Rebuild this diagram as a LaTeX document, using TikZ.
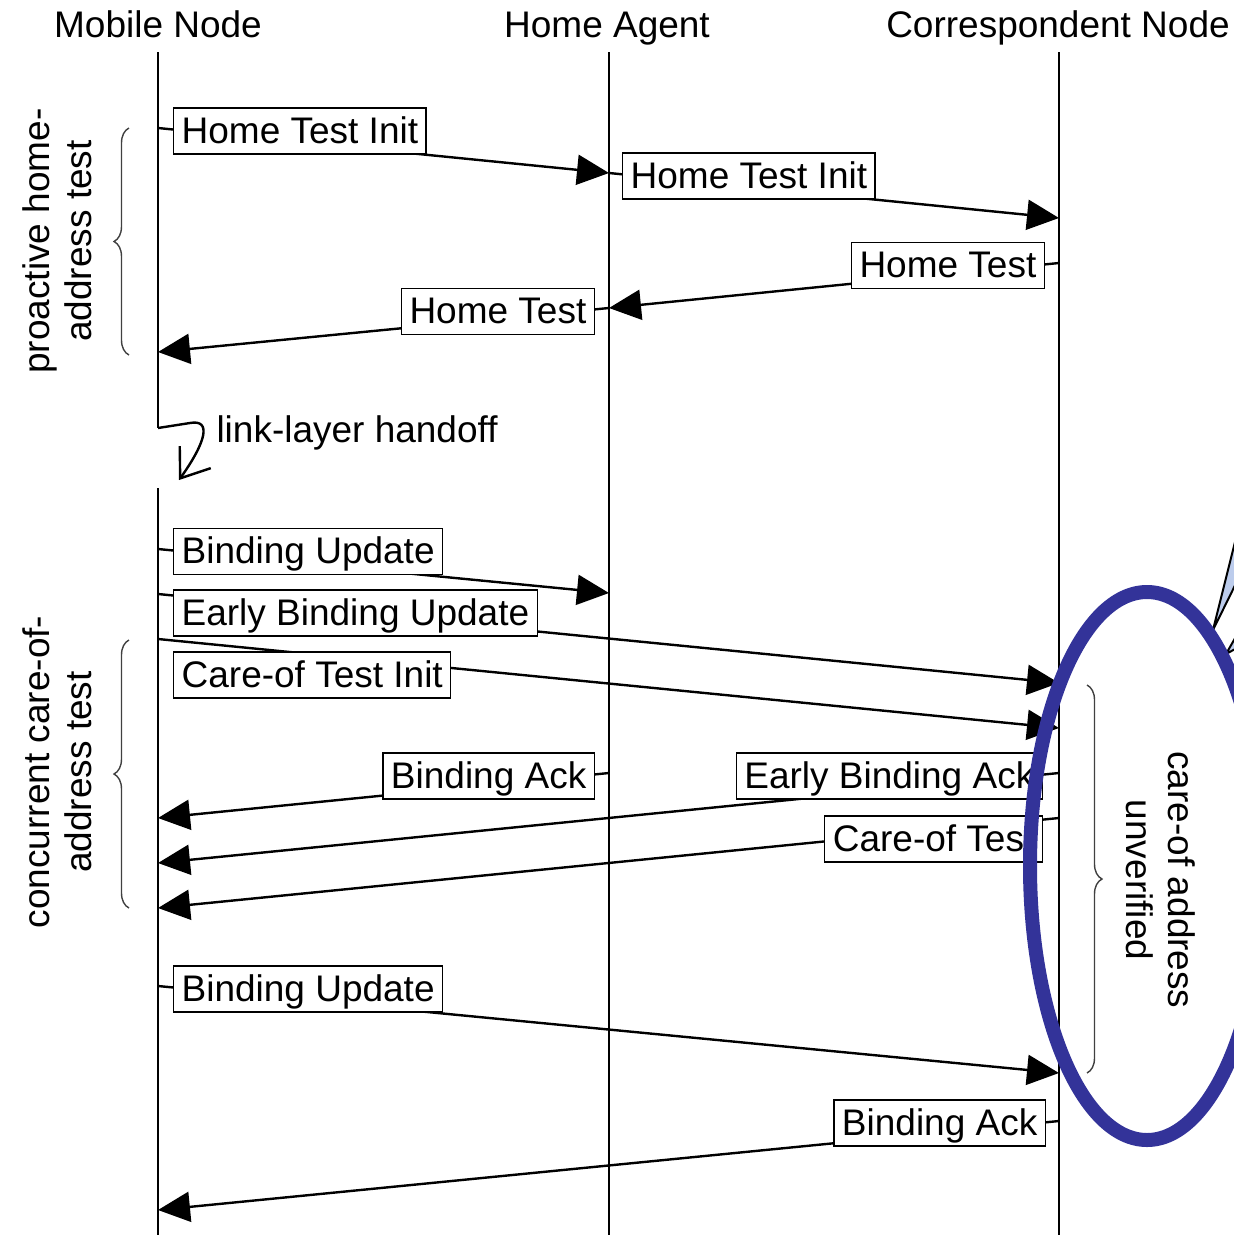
\documentclass[tikz,border=0pt]{standalone}
\usepackage{fontspec}
\setmainfont{Liberation Sans}
\usetikzlibrary{arrows.meta,decorations.pathreplacing}
\definecolor{ringblue}{RGB}{51,51,153}
\definecolor{tailblue}{RGB}{188,204,236}
\begin{document}
\begin{tikzpicture}[x=1pt,y=-1pt,
  every node/.style={font=\fontsize{37}{42}\selectfont},
  life/.style={line width=2pt},
  msg/.style={line width=2.4pt,-{Triangle[length=32pt,width=30pt]}},
  lbl/.style={draw,line width=1.3pt,fill=white,inner xsep=8pt,inner ysep=5pt,
              text height=30pt,text depth=6pt},
  sidebrace/.style={decorate,decoration={brace,amplitude=15pt},line width=1.4pt,draw=black!75},
  sidenote/.style={align=center}
]
\useasboundingbox (0,0) rectangle (1234,1235);
\clip (0,0) rectangle (1234,1235);

% participants
\node[anchor=base] (mnh) at (158,37) {Mobile Node};
\node[anchor=base] (hah) at (607,37) {Home Agent};
\node[anchor=base] (cnh) at (1058,37) {Correspondent Node};

% lifeline ends
\coordinate (mnTop) at (158,52);
\coordinate (mnCut) at (158,428);
\coordinate (mnRes) at (158,488);
\coordinate (mnBot) at (158,1235);
\coordinate (haTop) at (609,52);
\coordinate (haBot) at (609,1235);
\coordinate (cnTop) at (1059,52);
\coordinate (cnBot) at (1059,1235);

\draw[life] (mnTop) -- (mnCut);
\draw[life] (mnRes) -- (mnBot);
\draw[life] (haTop) -- (haBot);
\draw[life] (cnTop) -- (cnBot);

% message end points on the lifelines
\coordinate (a1) at (158,128);  \coordinate (b1) at (609,173);
\coordinate (a2) at (609,173);  \coordinate (b2) at (1059,218);
\coordinate (a3) at (1059,263); \coordinate (b3) at (609,308);
\coordinate (a4) at (609,308);  \coordinate (b4) at (158,352);
\coordinate (a5) at (158,549);  \coordinate (b5) at (609,593);
\coordinate (a6) at (158,594);  \coordinate (b6) at (1059,683);
\coordinate (a7) at (158,639);  \coordinate (b7) at (1059,728);
\coordinate (a8) at (609,773);  \coordinate (b8) at (158,818);
\coordinate (a9) at (1059,773); \coordinate (b9) at (158,863);
\coordinate (a10) at (1059,818); \coordinate (b10) at (158,908);
\coordinate (a11) at (158,986); \coordinate (b11) at (1059,1073);
\coordinate (a12) at (1059,1121); \coordinate (b12) at (158,1210);

\foreach \i in {1,...,12} \draw[msg] (a\i) -- (b\i);

% message labels
\node[lbl,anchor=west] (l1) at (173,131) {Home Test Init};
\node[lbl,anchor=west] (l2) at (622,176) {Home Test Init};
\node[lbl,anchor=east] (l3) at (1045,265.5) {Home Test};
\node[lbl,anchor=east] (l4) at (595,311.5) {Home Test};
\node[lbl,anchor=west] (l5) at (173,551.5) {Binding Update};
\node[lbl,anchor=west] (l6) at (173,613) {Early Binding Update};
\node[lbl,anchor=west] (l7) at (173,675) {Care-of Test Init};
\node[lbl,anchor=east] (l8) at (595,776) {Binding Ack};
\node[lbl,anchor=east] (l9) at (1043,776) {Early Binding Ack};
\node[lbl,anchor=east] (l10) at (1043,839) {Care-of Test};
\node[lbl,anchor=west] (l11) at (173,989) {Binding Update};
\node[lbl,anchor=east] (l12) at (1046,1123) {Binding Ack};

% phase braces
\coordinate (br1a) at (129,355); \coordinate (br1b) at (129,128);
\coordinate (br2a) at (129,908); \coordinate (br2b) at (129,640);
\coordinate (br3a) at (1087,685); \coordinate (br3b) at (1087,1073);
\draw[sidebrace] (br1a) -- (br1b);
\draw[sidebrace] (br2a) -- (br2b);
\draw[sidebrace] (br3a) -- (br3b);

\node[sidenote,rotate=90] (p1) at (57,241) {proactive home-\\address test};
\node[sidenote,rotate=90] (p2) at (57,772) {concurrent care-of-\\address test};
\node[sidenote,rotate=-90] (p3) at (1161,880) {care-of address\\unverified};

% handoff squiggle
\node[anchor=west] (ho) at (213,433) {link-layer handoff};
\coordinate (hoEnd) at (179,480);
\draw[line width=2.4pt,-{Straight Barb[length=26pt,width=38pt]}]
  (mnCut) -- (190,423) .. controls (212,419) and (206,442) .. (hoEnd);

% callout tails
\draw[line width=2pt,fill=tailblue,line join=round] (1213,630) -- (1240,522) -- (1250,555) -- cycle;
\draw[line width=2pt,fill=tailblue,line join=round] (1226,654) -- (1242,626) -- (1248,642) -- cycle;

% highlight ring
\draw[ringblue,line width=14pt] (1147,866) ellipse [x radius=117, y radius=274];
\end{tikzpicture}
\end{document}
